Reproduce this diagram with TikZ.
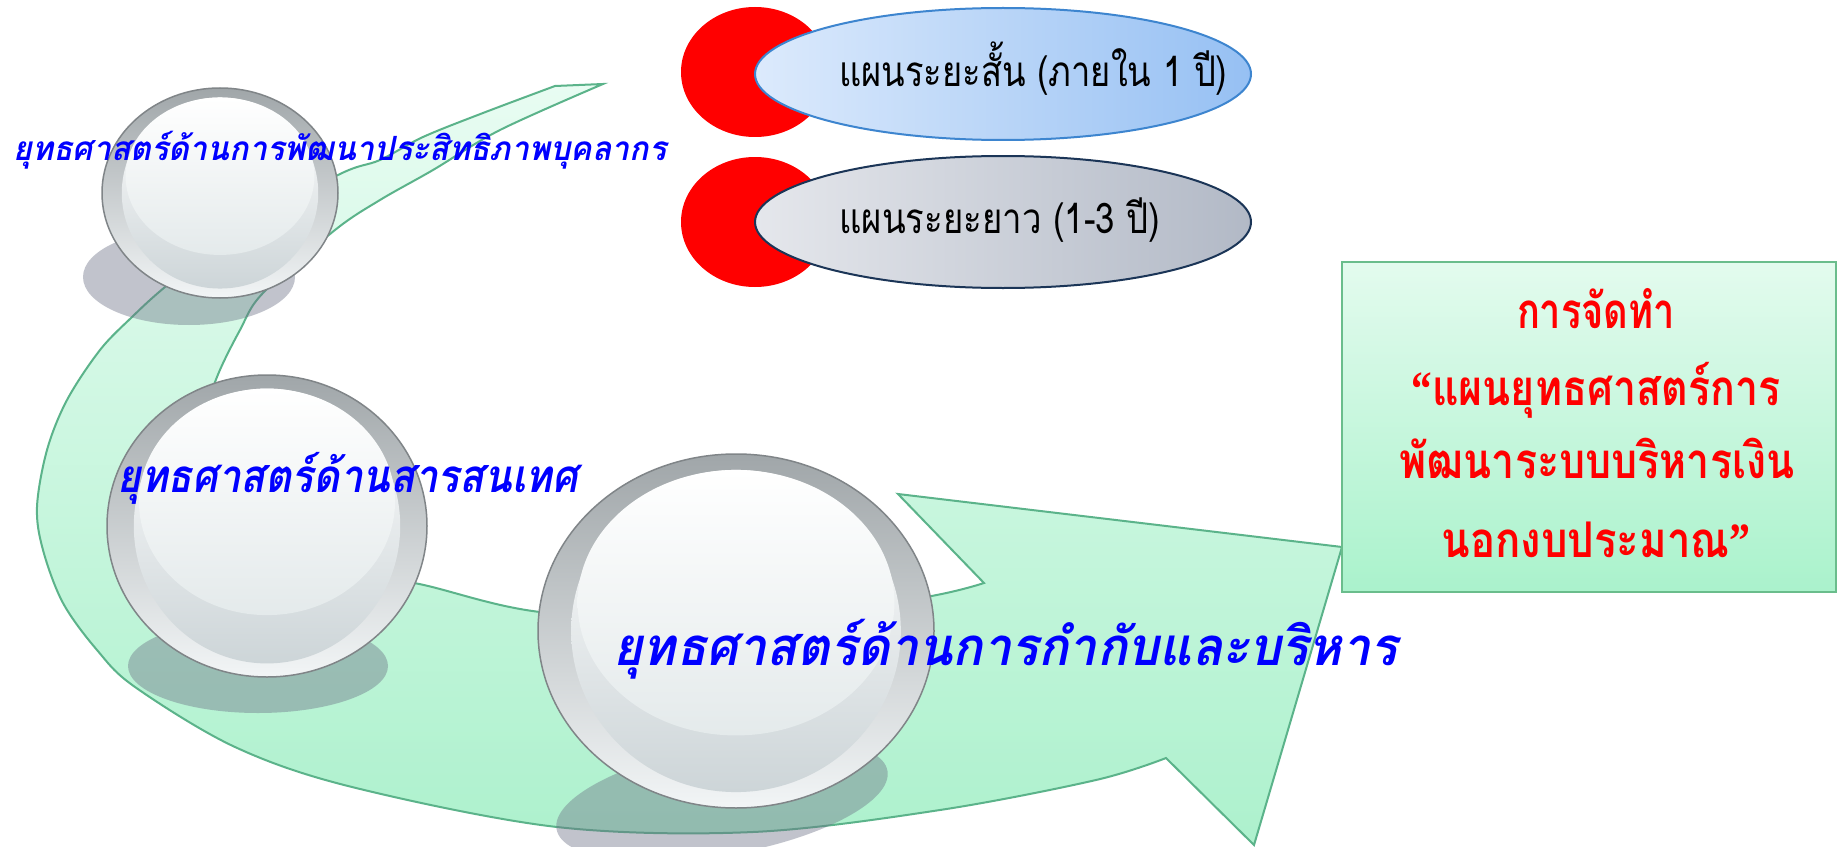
\documentclass[tikz,border=0pt]{standalone}
\usepackage{fontspec}
\usepackage{graphicx}
\usepackage{tikz}
\usetikzlibrary{shapes.geometric,positioning,calc}
\newfontfamily\thaifont[Script=Thai]{Loma}
\newfontfamily\quotefont{Liberation Serif}
\definecolor{bandtop}{HTML}{E8FCF2}
\definecolor{bandbot}{HTML}{ADF1CD}
\definecolor{bandline}{HTML}{5BB38A}
\definecolor{boxtop}{HTML}{E3FBEE}
\definecolor{boxbot}{HTML}{AAF2CC}
\definecolor{boxline}{HTML}{6ABD8C}
\definecolor{rimtop}{HTML}{A0A6A9}
\definecolor{rimbot}{HTML}{F2F5F6}
\definecolor{rimline}{HTML}{808588}
\definecolor{facebot}{HTML}{CDD5D8}
\definecolor{shinebot}{HTML}{E4EAEB}
\definecolor{shadowgray}{HTML}{6C7286}
\definecolor{stratblue}{HTML}{0000FF}
\definecolor{shortleft}{HTML}{DCEAFC}
\definecolor{shortright}{HTML}{96C0F3}
\definecolor{shortline}{HTML}{3D85CF}
\definecolor{longleft}{HTML}{E5E7EC}
\definecolor{longright}{HTML}{B2B9C6}
\definecolor{longline}{HTML}{1B3557}
\newlength\pxu
\setlength\pxu{0.2mm}
\newcommand{\fitw}[2]{\resizebox{#1\pxu}{\height}{#2}}
\tikzset{
  ballrim/.style={ellipse, inner sep=0pt, top color=rimtop, bottom color=rimbot, draw=rimline, line width=0.3mm},
  ballface/.style={ellipse, inner sep=0pt, top color=white, bottom color=facebot},
  ballshine/.style={ellipse, inner sep=0pt, top color=white, bottom color=shinebot},
  ballshadow/.style={ellipse, inner sep=0pt, fill=shadowgray, fill opacity=0.42},
  redcap/.style={ellipse, inner sep=0pt, fill=red, minimum width=148\pxu, minimum height=130\pxu},
  planshort/.style={ellipse, inner sep=0pt, left color=shortleft, right color=shortright, draw=shortline, line width=0.4mm, minimum width=496\pxu, minimum height=132\pxu},
  planlong/.style={ellipse, inner sep=0pt, left color=longleft, right color=longright, draw=longline, line width=0.4mm, minimum width=496\pxu, minimum height=132\pxu},
  plantext/.style={anchor=base west, inner sep=0pt, font=\thaifont\fontsize{24}{26}\selectfont},
  stratlabel/.style={anchor=base west, inner sep=0pt, text=stratblue},
  goalbox/.style={rectangle, inner sep=0pt, top color=boxtop, bottom color=boxbot, draw=boxline, line width=0.4mm, minimum width=494\pxu, minimum height=330\pxu},
  goalline/.style={anchor=base, inner sep=0pt, text=red, font=\thaifont\bfseries\fontsize{28}{30}\selectfont},
}
% name, x, y, rx, ry
\newcommand{\glassball}[5]{%
  \node[ballrim, minimum width=#4*0.4mm, minimum height=#5*0.4mm] (#1) at (#2,#3) {};
  \node[ballface, minimum width=#4*0.333mm, minimum height=#5*0.364mm] (#1face) at (#2,#3) {};
  \node[ballshine, minimum width=#4*0.32mm, minimum height=#5*0.3mm, anchor=north] (#1shine) at (#1face.north) {};
}

\begin{document}
\begin{tikzpicture}[x=0.2mm, y=-0.2mm]
\useasboundingbox[fill=white] (0,0) rectangle (1838,847);

% the sweeping arrow
\draw[draw=bandline, line width=0.4mm, top color=bandtop, bottom color=bandbot]
  (555,86) -- (603,84)
  -- plot[smooth, tension=0.55] coordinates {(603,84) (500,130) (433,170) (380,200) (335,230) (263,293) (240,330) (217,377) (205,420) (215,480) (260,540) (330,575) (414,583) (540,612) (740,622) (920,598) (984,583)}
  -- (898,494) -- (1342,547) -- (1254,845) -- (1166,758)
  -- plot[smooth, tension=0.55] coordinates {(1166,758) (1096,780) (940,810) (753,832) (557,827) (352,787) (235,747) (135,687) (97,650) (63,603) (43,550) (37,507) (47,450) (67,400) (100,350) (132,317) (165,287) (230,235) (338,175) (380,160) (423,137) (483,113) (555,86)}
  -- cycle;

\node[ballshadow, minimum width=212\pxu, minimum height=96\pxu] (shadowA) at (189,277) {};
\node[ballshadow, minimum width=260\pxu, minimum height=94\pxu] (shadowB) at (258,666) {};
\node[ballshadow, minimum width=336\pxu, minimum height=110\pxu, rotate=10] (shadowC) at (722,800) {};

\glassball{ballA}{220}{193}{118}{105}
\glassball{ballB}{267}{526}{160}{151}
\glassball{ballC}{736}{631}{198}{177}

\node[stratlabel, font=\thaifont\bfseries\itshape\fontsize{19}{21}\selectfont] (staff) at (13,160) {\fitw{653}{ยุทธศาสตร์ด้านการพัฒนาประสิทธิภาพบุคลากร}};
\node[stratlabel, font=\thaifont\bfseries\itshape\fontsize{26}{28}\selectfont] (info) at (117,492) {\fitw{461}{ยุทธศาสตร์ด้านสารสนเทศ}};
\node[stratlabel, font=\thaifont\bfseries\itshape\fontsize{30}{32}\selectfont] (govern) at (613,665) {\fitw{784}{ยุทธศาสตร์ด้านการกำกับและบริหาร}};

\node[redcap] (capshort) at (755,72) {};
\node[planshort] (short) at (1003,74) {};
\node at (839,87) [plantext] (shorttext) {\fitw{388}{แผนระยะสั้น (ภายใน 1 ปี)}};
\node[redcap] (caplong) at (755,222) {};
\node[planlong] (long) at (1003,222) {};
\node at (839,233) [plantext] (longtext) {\fitw{321}{แผนระยะยาว (1-3 ปี)}};

\node[goalbox] (goal) at (1589,427) {};
\node[goalline] (goalA) at (1596,328) {\fitw{158}{การจัดทำ}};
\node[goalline] (goalB) at (1596,405) {\fitw{369}{{\quotefont\bfseries “}แผนยุทธศาสตร์การ}};
\node[goalline] (goalC) at (1597,478) {\fitw{395}{พัฒนาระบบบริหารเงิน}};
\node[goalline] (goalD) at (1596,557) {\fitw{309}{นอกงบประมาณ{\quotefont\bfseries ”}}};
\end{tikzpicture}
\end{document}
